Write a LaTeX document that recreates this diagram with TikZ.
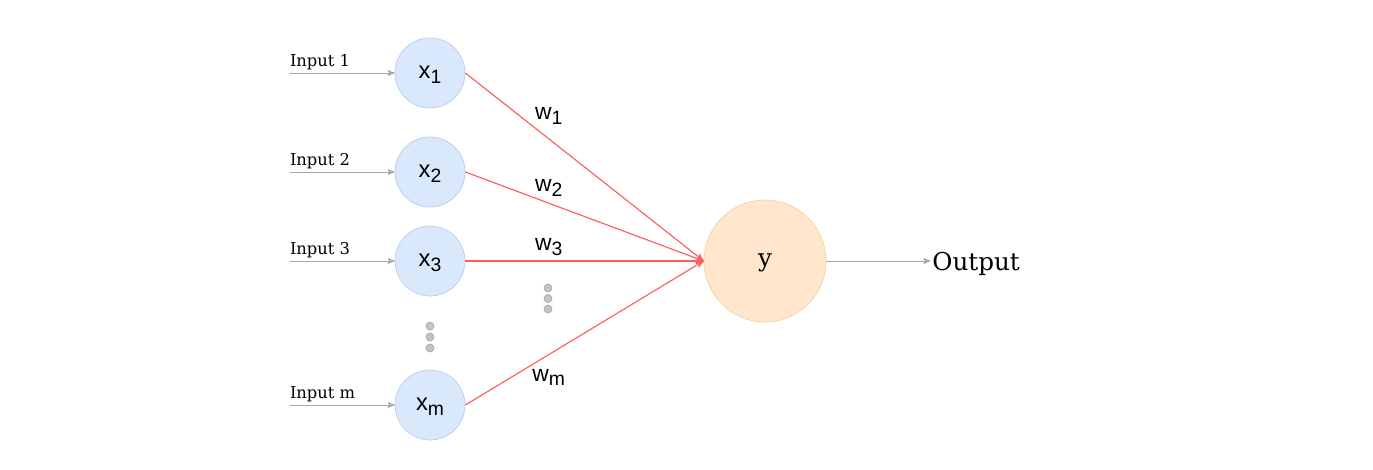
\documentclass[tikz,border=0pt]{standalone}
\usepackage{fontspec}
\setmainfont{DejaVu Serif}
\newfontfamily\hv{Liberation Sans}
\usepackage{tikz}
\usetikzlibrary{arrows,positioning}

\definecolor{inblue}{HTML}{DAE8FC}
\definecolor{inblueline}{HTML}{B7CDEC}
\definecolor{outfill}{HTML}{FFE6CC}
\definecolor{outline}{HTML}{F3D49E}
\definecolor{wred}{HTML}{FF5C5C}
\definecolor{ingrey}{HTML}{A6A6A6}
\definecolor{dotfill}{HTML}{C4C4C4}
\definecolor{dotline}{HTML}{A8A8A8}

\newcommand{\subvar}[2]{#1\raisebox{-2.6pt}{\fontsize{11}{12}\selectfont #2}}

\begin{document}
\begin{tikzpicture}[>=stealth',auto,node distance=2cm,
    neuron/.style={circle,draw=inblueline,fill=inblue,minimum size=1.4cm,inner sep=0pt,
      text height=9.3pt,text depth=2.5pt,font=\hv\fontsize{13.5}{16}\selectfont},
    outneuron/.style={circle,draw=outline,fill=outfill,minimum size=2.44cm,inner sep=0pt,
      text height=9pt,text depth=2.2pt,font=\fontsize{14}{16}\selectfont},
    inlabel/.style={anchor=base west,inner sep=0pt,yshift=0.13cm,font=\fontsize{9.3}{11}\selectfont},
    inarrow/.style={draw=ingrey,->,line width=0.5pt},
    wline/.style={draw=wred,->,line width=0.65pt},
    wlab/.style={auto=false,anchor=center,inner sep=1pt,font=\hv\fontsize{13}{15}\selectfont},
    vdot/.style={circle,draw=dotline,fill=dotfill,minimum size=0.16cm,inner sep=0pt,line width=0.4pt}]
  \useasboundingbox (0,0) rectangle (27.46,-9.38);

  \node[neuron] (x1) at (8.6,-1.46) {\subvar{x}{1}};
  \node[neuron] (x2) [below of=x1,node distance=1.98cm] {\subvar{x}{2}};
  \node[neuron] (x3) [below of=x2,node distance=1.78cm] {\subvar{x}{3}};
  \node[neuron] (xm) [below of=x3,node distance=2.88cm] {\subvar{x}{m}};
  \node[outneuron] (y) [right of=x3,node distance=6.7cm] {y};
  \node[inner sep=1pt,text depth=0pt,font=\fontsize{14}{16}\selectfont] (out) [right=2.08cm of y] {Output};

  % inputs
  \coordinate[left=2.1cm of x1] (i1);
  \coordinate[left=2.1cm of x2] (i2);
  \coordinate[left=2.1cm of x3] (i3);
  \coordinate[left=2.1cm of xm] (im);
  \node[inlabel] (t1) at (i1) {Input 1};
  \node[inlabel] (t2) at (i2) {Input 2};
  \node[inlabel] (t3) at (i3) {Input 3};
  \node[inlabel] (tm) at (im) {Input m};

  \path (i1) edge[inarrow] (x1)
        (i2) edge[inarrow] (x2)
        (i3) edge[inarrow] (x3)
        (im) edge[inarrow] (xm)
        (y) edge[inarrow] (out);

  % weights
  \path (x1.east) edge[wline] node[wlab,pos=.35,yshift=0.46cm] {\subvar{w}{1}} (y.west)
        (x2.east) edge[wline] node[wlab,pos=.35,yshift=0.30cm] {\subvar{w}{2}} (y.west)
        (x3.east) edge[wline] node[wlab,pos=.35,yshift=0.28cm] {\subvar{w}{3}} (y.west)
        (xm.east) edge[wline] node[wlab,pos=.35,yshift=-0.46cm] {\subvar{w}{m}} (y.west);

  % dots
  \foreach \i/\yy in {1/-5.76,2/-5.97,3/-6.18}
    \node[vdot] (dw\i) at (10.96,\yy) {};
  \foreach \i/\yy in {1/-6.52,2/-6.74,3/-6.96}
    \node[vdot] (dx\i) at (8.6,\yy) {};
\end{tikzpicture}
\end{document}
